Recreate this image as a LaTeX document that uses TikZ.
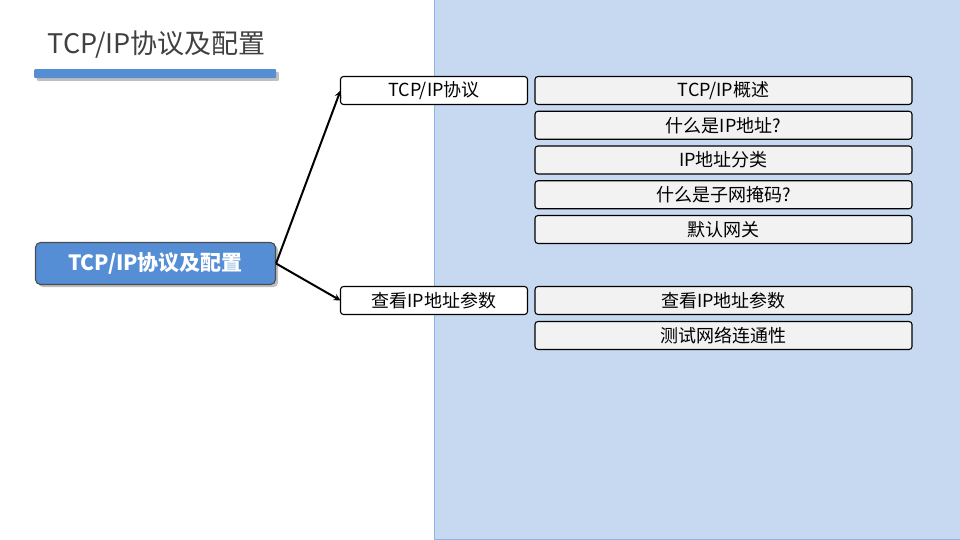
\documentclass[tikz,border=0pt]{standalone}
\usepackage{fontspec}
\setmainfont{Noto Sans CJK SC}
\usepackage{tikz}
\usetikzlibrary{shapes, arrows, positioning, shadows}
\usepackage{xcolor}
\definecolor{panelblue}{HTML}{C6D9F1}
\definecolor{panelline}{HTML}{8EB4E3}
\definecolor{headblue}{HTML}{558ED5}
\definecolor{itemgray}{HTML}{F2F2F2}
\definecolor{titlegray}{HTML}{404040}
\tikzstyle{arrow}    = [line width=2pt,->,>=stealth]

\begin{document}
\begin{tikzpicture}[x=1pt, y=-1pt, font=\fontsize{18}{22}\selectfont]
        \tikzstyle{sub}=[rectangle, rounded corners=3pt, draw=black, fill=white, line width=1.1pt,
                         minimum width=187pt, minimum height=28pt, inner sep=0pt, outer sep=0pt, text centered]
        \tikzstyle{item}=[rectangle, rounded corners=3pt, draw=black, fill=itemgray, line width=1.1pt,
                         minimum width=377pt, minimum height=28pt, inner sep=0pt, outer sep=0pt, text centered]
        \tikzstyle{topic}=[rectangle, rounded corners=5pt, draw=black!70, fill=headblue, line width=1.1pt,
                         minimum width=240pt, minimum height=42pt, inner sep=0pt, text=white,
                         font=\fontsize{21}{25}\selectfont\bfseries, drop shadow]
        \useasboundingbox (0,0) rectangle (960,540);
        % right panel
        \fill[panelblue, draw=panelline, line width=1pt] (434.5,-2) rectangle (962,539);
        % title
        \node (title) [anchor=west, text=titlegray, font=\fontsize{27}{32}\selectfont] at (44,45) {TCP/IP协议及配置};
        \node (bar) [rectangle, rounded corners=1pt, fill=headblue, minimum width=242pt, minimum height=9pt,
                     inner sep=0pt, drop shadow, anchor=north west] at (34,69) {};
        % tree
        \node (main) [topic] at (155.5,263.5) {TCP/IP协议及配置};
        \node (proto) [sub, anchor=north west] at (340.5,76.5) {TCP/IP协议};
        \node (check) [sub, anchor=north west] at (340.5,286.5) {查看IP地址参数};
        \node (p1) [item, right=7.5pt of proto] {TCP/IP概述};
        \node (p2) [item, below=6.75pt of p1] {什么是IP地址?};
        \node (p3) [item, below=6.75pt of p2] {IP地址分类};
        \node (p4) [item, below=6.75pt of p3] {什么是子网掩码?};
        \node (p5) [item, below=6.75pt of p4] {默认网关};
        \node (c1) [item, right=7.5pt of check] {查看IP地址参数};
        \node (c2) [item, below=7pt of c1] {测试网络连通性};
        \draw[arrow] (main.east)--(proto.west);
        \draw[arrow] (main.east)--(check.west);
    \end{tikzpicture}
\end{document}
